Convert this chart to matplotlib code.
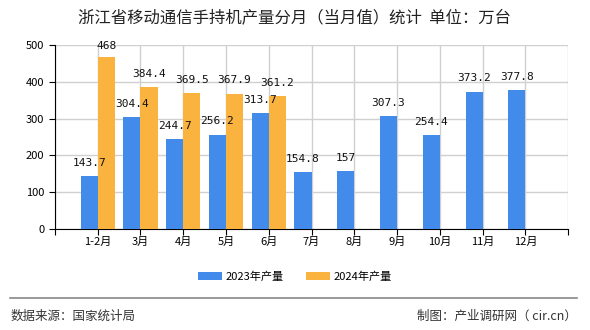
import matplotlib.pyplot as plt
import numpy as np

plt.rcParams['font.family'] = ['Noto Sans CJK SC', 'DejaVu Sans']

months = ['1-2月', '3月', '4月', '5月', '6月', '7月', '8月', '9月', '10月', '11月', '12月']
prod_2023 = [143.7, 304.4, 244.7, 256.2, 313.7, 154.8, 157, 307.3, 254.4, 373.2, 377.8]
prod_2024 = [468, 384.4, 369.5, 367.9, 361.2]
labels_2023 = ['143.7', '304.4', '244.7', '256.2', '313.7', '154.8', '157', '307.3', '254.4', '373.2', '377.8']
labels_2024 = ['468', '384.4', '369.5', '367.9', '361.2']

blue = '#428BEB'
orange = '#FBB340'

fig = plt.figure(figsize=(5.9, 3.3), dpi=100)
ax = fig.add_axes([0.093, 0.306, 0.870, 0.558])

x = np.arange(len(months))
x2 = np.arange(len(prod_2024))
w = 0.4
b1 = ax.bar(x - w / 2, prod_2023, w, color=blue, label='2023年产量', zorder=3)
b2 = ax.bar(x2 + w / 2, prod_2024, w, color=orange, label='2024年产量', zorder=3)

# value labels, offset above the bar tops
for xi, v, s in zip(x, prod_2023, labels_2023):
    ax.annotate(s, (xi - w / 2, v), xytext=(0, 9.5), textcoords='offset points',
                ha='center', va='center', fontsize=8, family='DejaVu Sans Mono',
                color='#111111', annotation_clip=False)
for xi, v, s in zip(x2, prod_2024, labels_2024):
    ax.annotate(s, (xi + w / 2, v), xytext=(0, 9.5 if v < 450 else 7.5),
                textcoords='offset points', ha='center', va='center', fontsize=8,
                family='DejaVu Sans Mono', color='#111111', annotation_clip=False)

ax.set_xlim(-1, 11)
ax.set_ylim(0, 500)
ax.set_xticks(np.arange(-1, 12))
ax.set_xticklabels([''] + months + [''], fontsize=8)
ax.set_yticks([0, 100, 200, 300, 400, 500])
ax.tick_params(axis='y', labelsize=8, length=4, color='black')
ax.tick_params(axis='x', length=4, color='black', pad=2)
ax.grid(True, color='#d0d0d0', linewidth=1, zorder=0)
for side in ['top', 'right']:
    ax.spines[side].set_visible(False)
ax.spines['left'].set_color('black')
ax.spines['bottom'].set_color('black')

fig.text(0.5, 0.945, '浙江省移动通信手持机产量分月（当月值）统计  单位：万台',
         ha='center', va='center', fontsize=11.8, color='#222222')

fig.legend(handles=[b1, b2], loc='center', bbox_to_anchor=(0.5, 0.162), ncol=2,
           frameon=False, fontsize=8, handlelength=2.2, handleheight=0.8,
           columnspacing=2.0, handletextpad=0.3)

fig.add_artist(plt.Line2D([0.017, 0.978], [0.097, 0.097], color='#888888', linewidth=1.2))
fig.text(0.017, 0.042, '数据来源：国家统计局', ha='left', va='center', fontsize=9, color='#333333')
fig.text(0.978, 0.042, '制图：产业调研网（ cir.cn）', ha='right', va='center', fontsize=9, color='#333333')

plt.savefig('out.png', dpi=100)
